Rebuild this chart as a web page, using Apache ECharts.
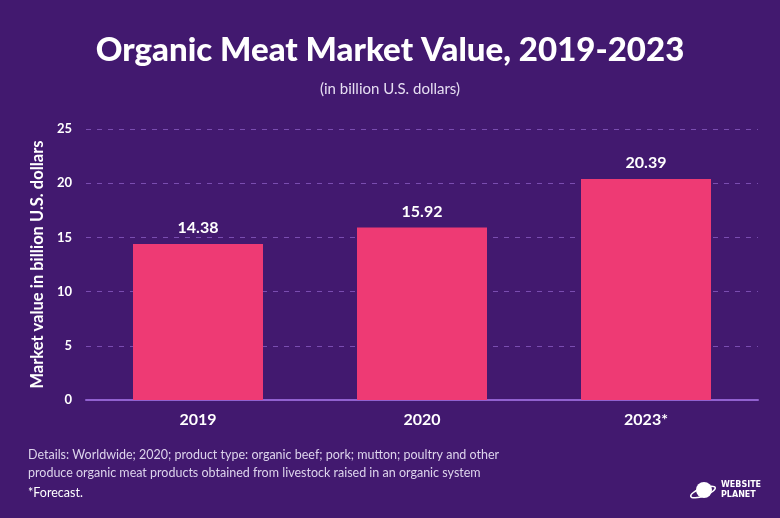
<!DOCTYPE html>
<html><head><meta charset="utf-8">
<script src="https://cdn.jsdelivr.net/npm/echarts@6/dist/echarts.min.js"></script>
<style>html,body{margin:0;padding:0;background:#42196f;}#c{width:780px;height:518px;}</style>
</head><body><div id="c"></div>
<script>
const categories = ['2019', '2020', '2023*'];
const values = [14.38, 15.92, 20.39];
const yTicks = [0, 5, 10, 15, 20, 25];

const chart = echarts.init(document.getElementById('c'));
chart.setOption({
  backgroundColor: '#42196f',
  animation: false,
  textStyle: { fontFamily: 'Lato' },
  title: [
    { text: 'Organic Meat Market Value, 2019-2023', left: 'center', top: 29,
      textStyle: { color: '#ffffff', fontSize: 33, fontWeight: 900, fontFamily: 'Lato' } },
    { text: '(in billion U.S. dollars)', left: 'center', top: 77,
      textStyle: { color: '#e6def2', fontSize: 15, fontWeight: 'normal', fontFamily: 'Lato' } }
  ],
  grid: { left: 86, right: 22, top: 129, bottom: 118 },
  xAxis: {
    type: 'category', data: categories,
    axisLine: { lineStyle: { color: '#9161d0', width: 2 } },
    axisTick: { show: false },
    axisLabel: { color: '#ffffff', fontSize: 16, fontWeight: 'bold', margin: 12, fontFamily: 'Lato' }
  },
  yAxis: {
    type: 'value', min: yTicks[0], max: yTicks[yTicks.length - 1], interval: 5,
    name: 'Market value in billion U.S. dollars', nameLocation: 'middle', nameGap: 40,
    nameTextStyle: { color: '#ffffff', fontSize: 16.5, fontWeight: 'bold', fontFamily: 'Lato' },
    axisLine: { show: false }, axisTick: { show: false },
    axisLabel: { color: '#ffffff', fontSize: 13, fontWeight: 'bold', margin: 14, fontFamily: 'Lato' },
    splitLine: { lineStyle: { color: '#7a4db0', type: [5, 6], width: 1.2 } }
  },
  series: [{
    type: 'bar', data: values, barWidth: 130,
    itemStyle: { color: '#ee3a74' },
    label: { show: true, position: 'top', color: '#ffffff', fontSize: 16, fontWeight: 'bold',
      distance: 8, fontFamily: 'Lato', formatter: p => p.value.toFixed(2) }
  }],
  graphic: [
    { type: 'text', left: 28, top: 446, style: { text: 'Details: Worldwide; 2020; product type: organic beef; pork; mutton; poultry and other\nproduce organic meat products obtained from livestock raised in an organic system',
      fill: '#ddd4ec', font: '12.5px Lato', lineHeight: 18 } },
    { type: 'text', left: 28, top: 486, style: { text: '*Forecast.', fill: '#ffffff', font: '12.5px Lato' } },
    { type: 'circle', shape: { cx: 704, cy: 490, r: 8 }, style: { fill: '#ffffff' } },
    { type: 'ellipse', shape: { cx: 703, cy: 492, rx: 13, ry: 4 }, rotation: 0.35, originX: 703, originY: 492,
      style: { fill: 'none', stroke: '#ffffff', lineWidth: 1.5 } },
    { type: 'text', left: 721, top: 480, style: { text: 'WEBSITE\nPLANET', fill: '#ffffff', font: 'bold 8px "DejaVu Sans"', lineHeight: 10 } }
  ]
});
</script></body></html>
